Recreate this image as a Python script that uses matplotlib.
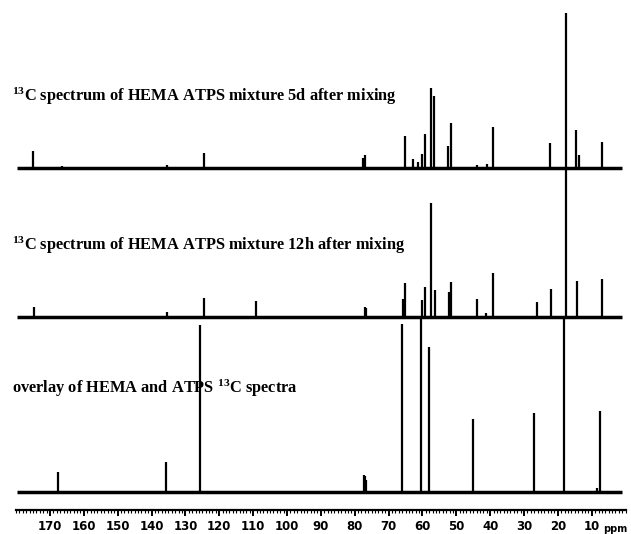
import matplotlib
matplotlib.use("Agg")
import matplotlib.pyplot as plt
from matplotlib.ticker import MultipleLocator, FixedLocator

# ---------------- data (ppm, peak heights in arbitrary units) ----------------
labels = [
    r"$\mathrm{^{13}}$C spectrum of HEMA ATPS mixture 5d after mixing",
    r"$\mathrm{^{13}}$C spectrum of HEMA ATPS mixture 12h after mixing",
    r"overlay of HEMA and ATPS $\mathrm{^{13}}$C spectra",
]

ppm_5d = [174.9, 166.5, 135.5, 124.5, 77.6, 77.0, 65.2, 62.9, 61.4, 60.2, 59.25,
          57.6, 56.5, 52.4, 51.7, 44.0, 41.0, 39.3, 22.3, 17.6, 14.7, 13.7, 7.1]
int_5d = [17, 2, 3, 15, 10, 13, 32, 9, 6, 14, 34,
          80, 72, 22, 45, 3, 4, 41, 25, 155, 38, 13, 26]

ppm_12h = [174.6, 135.5, 124.5, 109.2, 77.0, 76.6, 65.6, 65.2, 60.2, 59.2, 57.6,
           56.3, 52.1, 51.6, 44.0, 41.3, 39.1, 26.1, 22.1, 17.6, 14.4, 7.1]
int_12h = [10, 5, 19, 16, 10, 9, 18, 34, 17, 30, 114,
           27, 25, 35, 18, 4, 44, 15, 28, 149, 36, 38]

ppm_overlay = [167.6, 135.7, 125.7, 77.4, 77.0, 76.6, 66.0, 60.5, 58.1,
               45.0, 27.0, 18.1, 8.5, 7.6]
int_overlay = [20, 30, 167, 17, 16, 12, 168, 175, 145,
               73, 79, 175, 4, 81]

major_ticks = list(range(170, 0, -10))

# ---------------- figure ----------------
plt.rcParams["mathtext.fontset"] = "custom"
plt.rcParams["mathtext.rm"] = "Liberation Serif:bold"
plt.rcParams["mathtext.bf"] = "Liberation Serif:bold"

W, H = 631, 534
fig = plt.figure(figsize=(W / 100, H / 100), dpi=100)
x_left_px, x_right_px = 16.1, 625.6
axis_y_px = 510
ax = fig.add_axes([x_left_px / W, (H - axis_y_px) / H,
                   (x_right_px - x_left_px) / W, axis_y_px / H])
ax.set_xlim(180, 0)
ax.set_ylim(0, axis_y_px)

offsets = [341.7, 193.0, 18.0]
series = [(ppm_5d, int_5d), (ppm_12h, int_12h), (ppm_overlay, int_overlay)]

for off, (p, h) in zip(offsets, series):
    ax.plot([179.6, 1.0], [off, off], color="black", lw=2.5, solid_capstyle="butt")
    ax.vlines(p, off, [off + v for v in h], color="black", lw=1.6)

for s in ["top", "left", "right"]:
    ax.spines[s].set_visible(False)
ax.spines["bottom"].set_linewidth(1.6)
ax.set_yticks([])
ax.xaxis.set_major_locator(FixedLocator(major_ticks))
ax.xaxis.set_minor_locator(MultipleLocator(1))
ax.tick_params(axis="x", which="major", direction="out", length=4, width=1.4,
               pad=3.5, labelsize=8.5)
ax.tick_params(axis="x", which="minor", direction="out", length=2, width=0.8)
ax.set_xticklabels([str(v) for v in major_ticks], fontweight="bold")
ax.text(6.6, -22, "ppm", fontsize=7, fontweight="bold", ha="left",
        va="baseline", transform=ax.transData, clip_on=False)

label_pos_px = [(12, 101), (12, 250), (12, 393)]
for txt, (xp, yp) in zip(labels, label_pos_px):
    fig.text(xp / W, 1 - yp / H, txt, fontsize=11.8, family="Liberation Serif",
             fontweight="bold", ha="left", va="baseline")

fig.savefig("out.png", dpi=100)
